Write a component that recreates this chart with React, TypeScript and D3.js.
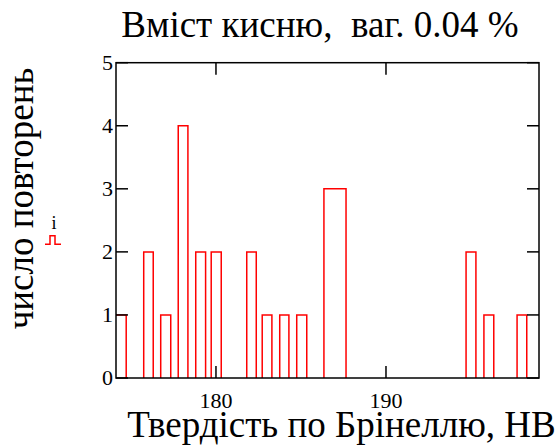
import React, { useEffect, useRef } from "react";
import * as d3 from "d3";

// histogram bins (Brinell hardness, HB)
const binLo = [173.9, 175.75, 176.75, 177.78, 178.81, 179.72, 181.81, 182.72, 183.75, 184.75, 186.35, 194.71, 195.76, 197.71];
const binHi = [174.72, 176.31, 177.34, 178.35, 179.39, 180.31, 182.37, 183.29, 184.29, 185.34, 187.65, 195.29, 196.34, 198.28];
const counts = [1, 2, 1, 4, 2, 2, 2, 1, 1, 1, 3, 2, 1, 1];

const xTicks = [180, 190];
const yTicks = [0, 1, 2, 3, 4, 5];
const xDomain = [174.12, 199.0];
const yDomain = [0, 5];

const title = "Вміст кисню,  ваг. 0.04 %";
const xLabel = "Твердість по Брінеллю, НВ";
const yLabel = "число повторень";

const FONT = "Liberation Serif";

const App = () => {
  const svgRef = useRef<SVGSVGElement>(null);

  useEffect(() => {
    const svg = d3.select(svgRef.current);
    svg.selectAll("*").remove();

    const left = 116,
      right = 539,
      top = 62.7,
      bottom = 378;

    const x = d3.scaleLinear().domain(xDomain).range([left, right]);
    const y = d3.scaleLinear().domain(yDomain).range([bottom, top]);

    svg
      .append("defs")
      .append("clipPath")
      .attr("id", "plot-clip")
      .append("rect")
      .attr("x", left)
      .attr("y", top - 2)
      .attr("width", right - left)
      .attr("height", bottom - top + 4);

    // bars
    const bins = counts.map((c, i) => ({ lo: binLo[i], hi: binHi[i], c }));
    svg
      .append("g")
      .attr("clip-path", "url(#plot-clip)")
      .selectAll("path")
      .data(bins)
      .enter()
      .append("path")
      .attr("d", (d) => {
        const p = d3.path();
        p.moveTo(x(d.lo), y(0));
        p.lineTo(x(d.lo), y(d.c));
        p.lineTo(x(d.hi), y(d.c));
        p.lineTo(x(d.hi), y(0));
        return p.toString();
      })
      .attr("fill", "none")
      .attr("stroke", "#ff0000")
      .attr("stroke-width", 1.5);

    // frame
    svg
      .append("rect")
      .attr("x", left)
      .attr("y", top)
      .attr("width", right - left)
      .attr("height", bottom - top)
      .attr("fill", "none")
      .attr("stroke", "#000")
      .attr("stroke-width", 1.5);

    const tickLen = 12;
    const ticks = svg.append("g").attr("stroke", "#000").attr("stroke-width", 1.5);
    yTicks.forEach((t) => {
      ticks.append("line").attr("x1", left).attr("x2", left + tickLen).attr("y1", y(t)).attr("y2", y(t));
      ticks.append("line").attr("x1", right - tickLen).attr("x2", right).attr("y1", y(t)).attr("y2", y(t));
    });
    xTicks.forEach((t) => {
      ticks.append("line").attr("x1", x(t)).attr("x2", x(t)).attr("y1", bottom).attr("y2", bottom - tickLen);
      ticks.append("line").attr("x1", x(t)).attr("x2", x(t)).attr("y1", top).attr("y2", top + tickLen);
    });

    const txt = svg.append("g").attr("font-family", FONT).attr("fill", "#000");

    // tick labels
    txt
      .append("g")
      .selectAll("text")
      .data(yTicks)
      .enter()
      .append("text")
      .attr("x", left - 3)
      .attr("y", (d) => y(d))
      .attr("dy", "0.34em")
      .attr("text-anchor", "end")
      .attr("font-size", 22)
      .text((d) => d);

    txt
      .append("g")
      .selectAll("text")
      .data(xTicks)
      .enter()
      .append("text")
      .attr("x", (d) => x(d))
      .attr("y", 408)
      .attr("text-anchor", "middle")
      .attr("font-size", 22)
      .text((d) => d);

    // titles
    txt
      .append("text")
      .attr("x", 320)
      .attr("y", 37)
      .attr("text-anchor", "middle")
      .attr("font-size", 37)
      .style("white-space", "pre")
      .text(title);

    txt
      .append("text")
      .attr("x", 341.5)
      .attr("y", 437)
      .attr("text-anchor", "middle")
      .attr("font-size", 37)
      .text(xLabel);

    txt
      .append("text")
      .attr("transform", "translate(33,198.5) rotate(-90)")
      .attr("text-anchor", "middle")
      .attr("font-size", 37)
      .text(yLabel);

    // legend
    txt
      .append("text")
      .attr("x", 54)
      .attr("y", 229)
      .attr("text-anchor", "middle")
      .attr("font-size", 18)
      .text("i");

    svg
      .append("path")
      .attr("d", "M45,244.3H50V235.7H55V244.3H61")
      .attr("fill", "none")
      .attr("stroke", "#ff0000")
      .attr("stroke-width", 1.5);
  }, []);

  return (
    <svg
      ref={svgRef}
      width={558}
      height={446}
      style={{ position: "absolute", left: 0, top: 0, background: "#fff" }}
    ></svg>
  );
};

export default App;
